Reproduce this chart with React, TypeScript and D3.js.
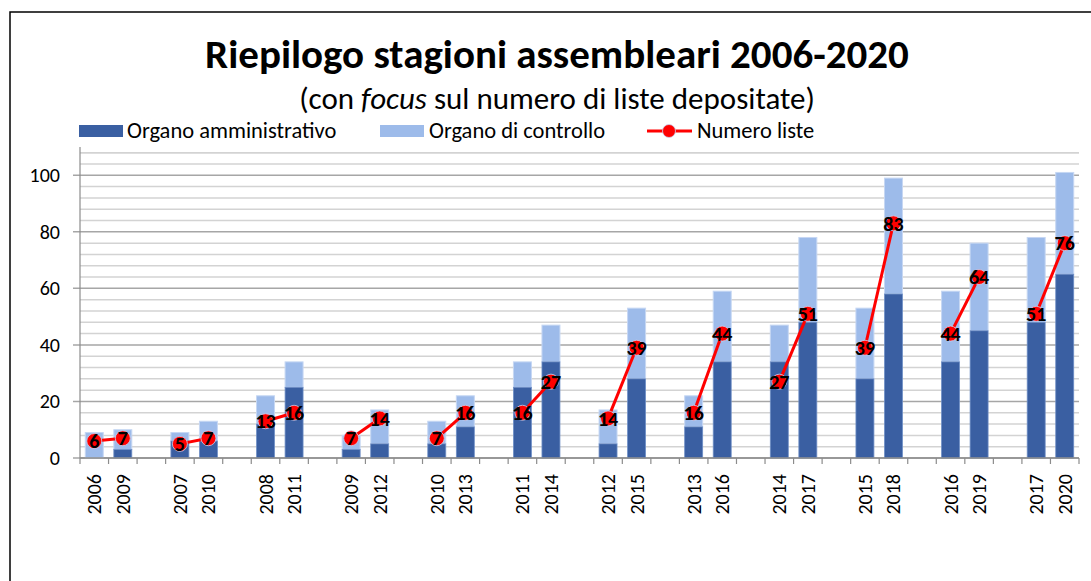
import React from 'react';
import * as d3 from 'd3';

// stagioni affiancate: anno iniziale vs anno +3
const annoPrima = ['2006', '2007', '2008', '2009', '2010', '2011', '2012', '2013', '2014', '2015', '2016', '2017'];
const annoDopo = ['2009', '2010', '2011', '2012', '2013', '2014', '2015', '2016', '2017', '2018', '2019', '2020'];

// valori per barra, nell'ordine prima/dopo di ogni coppia
const amministrativo = [0, 3, 6, 6, 12, 25, 3, 5, 5, 11, 25, 34, 5, 28, 11, 34, 34, 48, 28, 58, 34, 45, 48, 65];
const controllo = [9, 7, 3, 7, 10, 9, 5, 12, 8, 11, 9, 13, 12, 25, 11, 25, 13, 30, 25, 41, 25, 31, 30, 36];
const numeroListe = [6, 7, 5, 7, 13, 16, 7, 14, 7, 16, 16, 27, 14, 39, 16, 44, 27, 51, 39, 83, 44, 64, 51, 76];

const yTicks = [0, 20, 40, 60, 80, 100];

const W = 1091;
const H = 581;
const FONT = 'Carlito, Calibri, Lato, sans-serif';
const DARK = '#3a5fa2';
const LIGHT = '#9dbbea';
const RED = '#ff0000';

export default function App() {
  const left = 80;
  const right = 1079;
  const top = 147;
  const bottom = 458;

  // 3 posizioni per coppia (due barre + spazio), senza spazio finale
  const cats: string[] = [];
  annoPrima.forEach((a, i) => {
    cats.push('a' + i);
    cats.push('b' + i);
    if (i < annoPrima.length - 1) cats.push('gap' + i);
  });

  const x = d3.scaleBand().domain(cats).range([left, right]).paddingInner(0).paddingOuter(0);
  const y = d3.scaleLinear().domain([0, 110]).range([bottom, top]);
  const barW = x.bandwidth() * 0.63;

  const bars = amministrativo.map((v, i) => {
    const pair = Math.floor(i / 2);
    const key = (i % 2 === 0 ? 'a' : 'b') + pair;
    const label = i % 2 === 0 ? annoPrima[pair] : annoDopo[pair];
    return { key, label, adm: v, ctl: controllo[i], liste: numeroListe[i], cx: (x(key) as number) + x.bandwidth() / 2 };
  });

  const minor = d3.range(0, 110, 4).filter(v => v % 20 !== 0);
  const line = d3.line<{ cx: number; liste: number }>().x(d => d.cx).y(d => y(d.liste));

  return (
    <svg width={W} height={H} style={{ position: 'absolute', left: 0, top: 0, background: '#fff' }} fontFamily={FONT}>
      <rect x={10} y={12} width={W} height={H} fill="none" stroke="#000" strokeWidth={1.5} />

      <text x={557} y={68} textAnchor="middle" fontSize={41} fontWeight="bold" fill="#000">
        Riepilogo stagioni assembleari 2006-2020
      </text>
      <text x={557} y={109} textAnchor="middle" fontSize={31} fill="#000">
        (con <tspan fontStyle="italic">focus</tspan> sul numero di liste depositate)
      </text>

      {/* legenda */}
      <rect x={79} y={125} width={44} height={12} fill={DARK} />
      <text x={127} y={138} fontSize={22.5}>Organo amministrativo</text>
      <rect x={380} y={125} width={44} height={12} fill={LIGHT} />
      <text x={429} y={138} fontSize={22.5}>Organo di controllo</text>
      <line x1={647} x2={692} y1={131} y2={131} stroke={RED} strokeWidth={3} />
      <circle cx={669} cy={131} r={6.5} fill={RED} stroke="#c9d4f0" strokeWidth={0.8} />
      <text x={697} y={138} fontSize={22.5}>Numero liste</text>

      {/* griglia */}
      {minor.map(v => (
        <line key={'m' + v} x1={left} x2={right} y1={y(v)} y2={y(v)} stroke="#d3d3d3" strokeWidth={1.5} />
      ))}
      <line x1={left} x2={right} y1={y(108)} y2={y(108)} stroke="#d3d3d3" strokeWidth={1.5} />
      {yTicks.map(v => (
        <g key={'t' + v}>
          <line x1={left - 7} x2={right} y1={y(v)} y2={y(v)} stroke="#a6a6a6" strokeWidth={1.5} />
          <text x={60} y={y(v)} dy="0.35em" textAnchor="end" fontSize={20}>{v}</text>
        </g>
      ))}

      {/* barre */}
      {bars.map(b => (
        <g key={b.key}>
          <rect x={b.cx - barW / 2} y={y(b.adm + b.ctl)} width={barW} height={y(b.adm) - y(b.adm + b.ctl)} fill={LIGHT} stroke="#c6d7f3" strokeWidth={1} />
          {b.adm > 0 && (
            <rect x={b.cx - barW / 2} y={y(b.adm)} width={barW} height={y(0) - y(b.adm)} fill={DARK} stroke="#6f8fc6" strokeWidth={0.8} />
          )}
        </g>
      ))}

      {/* assi */}
      <line x1={left} x2={left} y1={top} y2={bottom} stroke="#8c8c8c" strokeWidth={1.2} />
      <line x1={left} x2={right} y1={bottom} y2={bottom} stroke="#8c8c8c" strokeWidth={1.5} />
      {d3.range(cats.length + 1).map(i => {
        const xx = left + i * x.step();
        return <line key={'xt' + i} x1={xx} x2={xx} y1={bottom} y2={bottom + 6} stroke="#8c8c8c" strokeWidth={1.2} />;
      })}
      {bars.map(b => (
        <text key={'xl' + b.key} transform={`translate(${b.cx},474) rotate(-90)`} textAnchor="end" dominantBaseline="central" fontSize={20}>
          {b.label}
        </text>
      ))}

      {/* numero liste */}
      {annoPrima.map((a, i) => (
        <path key={'ln' + i} d={line([bars[2 * i], bars[2 * i + 1]]) || ''} fill="none" stroke={RED} strokeWidth={3} />
      ))}
      {bars.map(b => (
        <circle key={'c' + b.key} cx={b.cx} cy={y(b.liste)} r={7.5} fill={RED} stroke="#c9d4f0" strokeWidth={0.8} />
      ))}
      {bars.map(b => (
        <text key={'v' + b.key} x={b.cx} y={y(b.liste)} dy="0.36em" textAnchor="middle" fontSize={20} fontWeight="900" fill="#000">
          {b.liste}
        </text>
      ))}
    </svg>
  );
}
